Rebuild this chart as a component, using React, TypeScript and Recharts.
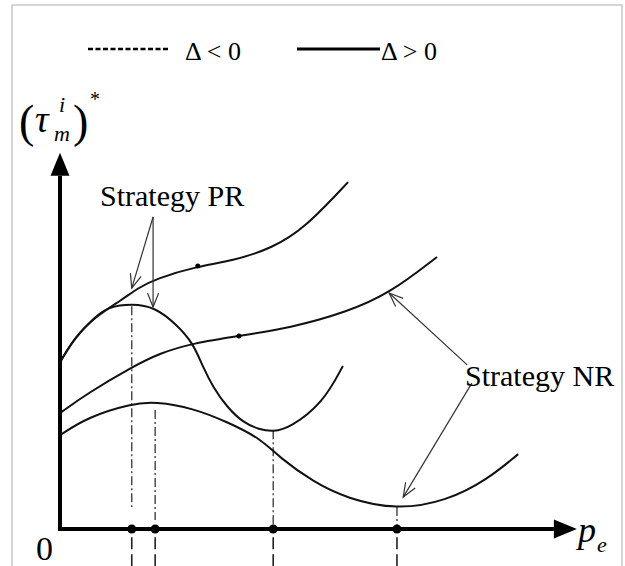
import { LineChart, Line, XAxis, YAxis, ReferenceLine, ReferenceDot } from 'recharts';

// equilibrium (tau_m^i)* against p_e, sampled along each curve
const prUpperX = [0, 0.29, 0.67, 1.19, 1.5, 1.83, 2.65, 3.31, 4.08, 4.71, 5.54];
const prUpperY = [4.39, 5.05, 5.58, 6.03, 6.34, 6.58, 6.92, 7.05, 7.39, 7.92, 9.13];

const prLowerX = [0, 0.29, 0.67, 0.92, 1.38, 1.83, 2.25, 2.56, 2.75, 2.94, 3.21, 3.52, 3.83, 4.1, 4.42, 5.06, 5.44];
const prLowerY = [4.39, 5.05, 5.58, 5.84, 5.93, 5.84, 5.37, 4.89, 4.26, 3.74, 3.21, 2.8, 2.62, 2.56, 2.66, 3.32, 4.29];

const nrUpperX = [0, 0.54, 1.38, 1.92, 2.56, 3.44, 4.42, 5.52, 6.35, 7.25];
const nrUpperY = [3.05, 3.58, 4.26, 4.63, 4.89, 5.08, 5.29, 5.71, 6.21, 7.16];

const nrLowerX = [0, 0.54, 1.38, 1.83, 2.56, 3.21, 3.85, 4.23, 4.87, 5.52, 6.48, 7.44, 8.21, 8.81];
const nrLowerY = [2.47, 2.95, 3.3, 3.35, 3.18, 2.82, 2.39, 1.87, 1.24, 0.8, 0.5, 0.74, 1.29, 1.97];

// inflection markers on the two rising curves
const inflections = [
  { x: 2.65, y: 6.92 },
  { x: 3.44, y: 5.08 },
];

// critical p_e values projected onto the horizontal axis
const criticalX = [1.38, 1.83, 4.1, 6.48];
const dropTop = [5.86, 3.13, 2.6, 0.58];
const dropBottom = [0.58, 0.24, 0, 0];

const zip = (xs: number[], ys: number[]) => xs.map((x, i) => ({ x, y: ys[i] }));

const curves = [
  zip(prUpperX, prUpperY),
  zip(prLowerX, prLowerY),
  zip(nrUpperX, nrUpperY),
  zip(nrLowerX, nrLowerY),
];

// annotation pointers: [fromX, fromY, toX, toY]
const pointers = [
  [1.79, 8.21, 1.38, 6.34],
  [1.79, 8.21, 1.79, 5.84],
  [7.83, 4.32, 6.33, 6.21],
  [7.92, 3.84, 6.6, 0.84],
];

const serif = "'Liberation Serif', 'DejaVu Serif', 'Noto Serif', 'Times New Roman', serif";

const AxisArrow = (props: any) => {
  const { x1, y1, x2, y2 } = props;
  const a = Math.atan2(y2 - y1, x2 - x1);
  const len = 23;
  const half = 9.5;
  const bx = x2 - len * Math.cos(a);
  const by = y2 - len * Math.sin(a);
  const nx = -Math.sin(a) * half;
  const ny = Math.cos(a) * half;
  return (
    <g>
      <line x1={x1} y1={y1} x2={bx} y2={by} stroke="#000" strokeWidth={4} />
      <polygon points={`${x2},${y2} ${bx + nx},${by + ny} ${bx - nx},${by - ny}`} fill="#000" />
    </g>
  );
};

const Pointer = (props: any) => {
  const { x1, y1, x2, y2 } = props;
  const a = Math.atan2(y2 - y1, x2 - x1);
  const len = 15;
  const spread = 0.38;
  const h1x = x2 - len * Math.cos(a - spread);
  const h1y = y2 - len * Math.sin(a - spread);
  const h2x = x2 - len * Math.cos(a + spread);
  const h2y = y2 - len * Math.sin(a + spread);
  return (
    <g stroke="#333" strokeWidth={1.2} fill="none">
      <line x1={x1} y1={y1} x2={x2} y2={y2} />
      <polyline points={`${h1x},${h1y} ${x2},${y2} ${h2x},${h2y}`} />
    </g>
  );
};

const T = (p: any) => {
  const { italic, children, ...rest } = p;
  return (
    <text {...rest} fontFamily={serif} fontStyle={italic ? 'italic' : 'normal'} fill="#000">
      {children}
    </text>
  );
};

export default function App() {
  return (
    <div style={{ position: 'absolute', left: 0, top: 0, width: 625, height: 566, background: '#fff' }}>
      <svg width={625} height={566} style={{ position: 'absolute', left: 0, top: 0 }}>
        <rect x={12} y={5} width={610} height={600} fill="none" stroke="#c8c8c8" strokeWidth={1.5} />
      </svg>
      <div style={{ position: 'absolute', left: 0, top: 0 }}>
        <LineChart width={625} height={566} margin={{ top: 149, right: 45, bottom: 37, left: 60 }}>
          <XAxis dataKey="x" type="number" domain={[0, 10]} hide allowDataOverflow />
          <YAxis type="number" domain={[0, 10]} hide allowDataOverflow />

          {criticalX.map((x, i) => (
            <ReferenceLine
              key={`drop-${i}`}
              segment={[{ x, y: dropTop[i] }, { x, y: dropBottom[i] }]}
              stroke="#333"
              strokeWidth={1.3}
              strokeDasharray="9 3 2 3"
              ifOverflow="visible"
            />
          ))}
          {criticalX.map((x, i) => (
            <ReferenceLine
              key={`below-${i}`}
              segment={[{ x, y: -0.22 }, { x, y: -1 }]}
              stroke="#222"
              strokeWidth={1.6}
              strokeDasharray="12 5"
              ifOverflow="visible"
            />
          ))}

          {curves.map((data, i) => (
            <Line
              key={`curve-${i}`}
              data={data}
              dataKey="y"
              type="basis"
              stroke="#111"
              strokeWidth={2}
              dot={false}
              activeDot={false}
              isAnimationActive={false}
            />
          ))}

          {pointers.map(([x1, y1, x2, y2], i) => (
            <ReferenceLine
              key={`ptr-${i}`}
              segment={[{ x: x1, y: y1 }, { x: x2, y: y2 }]}
              shape={Pointer}
              ifOverflow="visible"
            />
          ))}

          {/* axes with arrowheads */}
          <ReferenceLine segment={[{ x: -0.04, y: 0 }, { x: 9.94, y: 0 }]} shape={AxisArrow} ifOverflow="visible" />
          <ReferenceLine segment={[{ x: 0, y: -0.05 }, { x: 0, y: 9.9 }]} shape={AxisArrow} ifOverflow="visible" />

          {criticalX.map((x) => (
            <ReferenceDot key={`cx-${x}`} x={x} y={0} r={4.5} fill="#000" stroke="none" ifOverflow="visible" />
          ))}
          {inflections.map((p) => (
            <ReferenceDot key={`inf-${p.x}`} x={p.x} y={p.y} r={2.5} fill="#000" stroke="none" ifOverflow="visible" />
          ))}
        </LineChart>
      </div>

      <svg width={625} height={566} style={{ position: 'absolute', left: 0, top: 0, pointerEvents: 'none' }}>
        {/* legend */}
        <line x1={88} y1={49} x2={170} y2={49} stroke="#000" strokeWidth={2.5} strokeDasharray="5 2.5" />
        <T x={185} y={60} fontSize={26}>Δ &lt; 0</T>
        <line x1={297} y1={49} x2={380} y2={49} stroke="#000" strokeWidth={3} />
        <T x={381} y={60} fontSize={26}>Δ &gt; 0</T>

        {/* y-axis title (τ_m^i)* */}
        <T x={19} y={137} fontSize={46}>(</T>
        <T x={35} y={132} fontSize={38} italic>τ</T>
        <T x={59} y={112} fontSize={22} italic>i</T>
        <T x={54} y={141} fontSize={22} italic>m</T>
        <T x={73} y={137} fontSize={46}>)</T>
        <T x={90} y={106} fontSize={20}>*</T>

        {/* axis labels */}
        <T x={36} y={560} fontSize={34}>0</T>
        <T x={578} y={542} fontSize={36} italic>p</T>
        <T x={597} y={552} fontSize={22} italic>e</T>

        {/* strategy annotations */}
        <T x={100} y={206} fontSize={30}>Strategy PR</T>
        <T x={465} y={386} fontSize={30}>Strategy NR</T>
      </svg>
    </div>
  );
}
